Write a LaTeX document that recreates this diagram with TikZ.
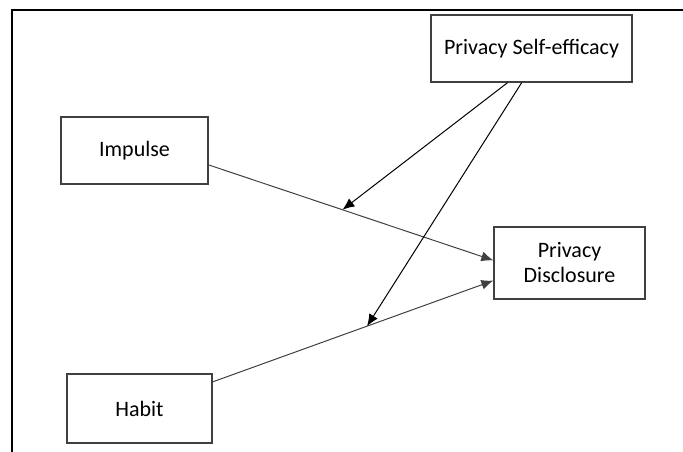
\documentclass[tikz,border=0pt]{standalone}
\usepackage{fontspec}
\setmainfont{Carlito}
\usetikzlibrary{arrows.meta}

\begin{document}
\begin{tikzpicture}[x=1pt, y=-1pt,
    every node/.style={font=\fontsize{22}{25}\selectfont},
    box/.style={draw=black!75, line width=1.3pt, align=center, inner sep=0pt},
    path/.style={draw=black!75, line width=1pt, -{Latex[length=12pt,width=10pt]}},
    moderator/.style={draw=black, line width=1pt, -{Latex[length=12pt,width=10pt]}}]
  \useasboundingbox (0,0) rectangle (683,452);

  % Frame
  \draw[line width=2pt] (12,452) -- (12,10) -- (683,10);

  % Constructs
  \node[box, minimum width=201pt, minimum height=67pt] (efficacy) at (531.5,48.5) {Privacy Self-efficacy};
  \node[box, minimum width=147pt, minimum height=67pt] (impulse) at (134.5,150.5) {Impulse};
  \node[box, minimum width=145pt, minimum height=69pt] (habit) at (139.5,408.5) {Habit};
  \node[box, minimum width=151pt, minimum height=72pt] (disclosure) at (569.5,263) {Privacy\\Disclosure};

  % Direct effects
  \draw[path] (impulse.-11) -- coordinate[pos=0.47] (impulseMid) (disclosure.178.5);
  \draw[path] (habit.20) -- coordinate[pos=0.55] (habitMid) (disclosure.-167);

  % Moderation
  \draw[moderator] (efficacy.-125) -- (impulseMid);
  \draw[moderator] (efficacy.-106) -- (habitMid);
\end{tikzpicture}
\end{document}
